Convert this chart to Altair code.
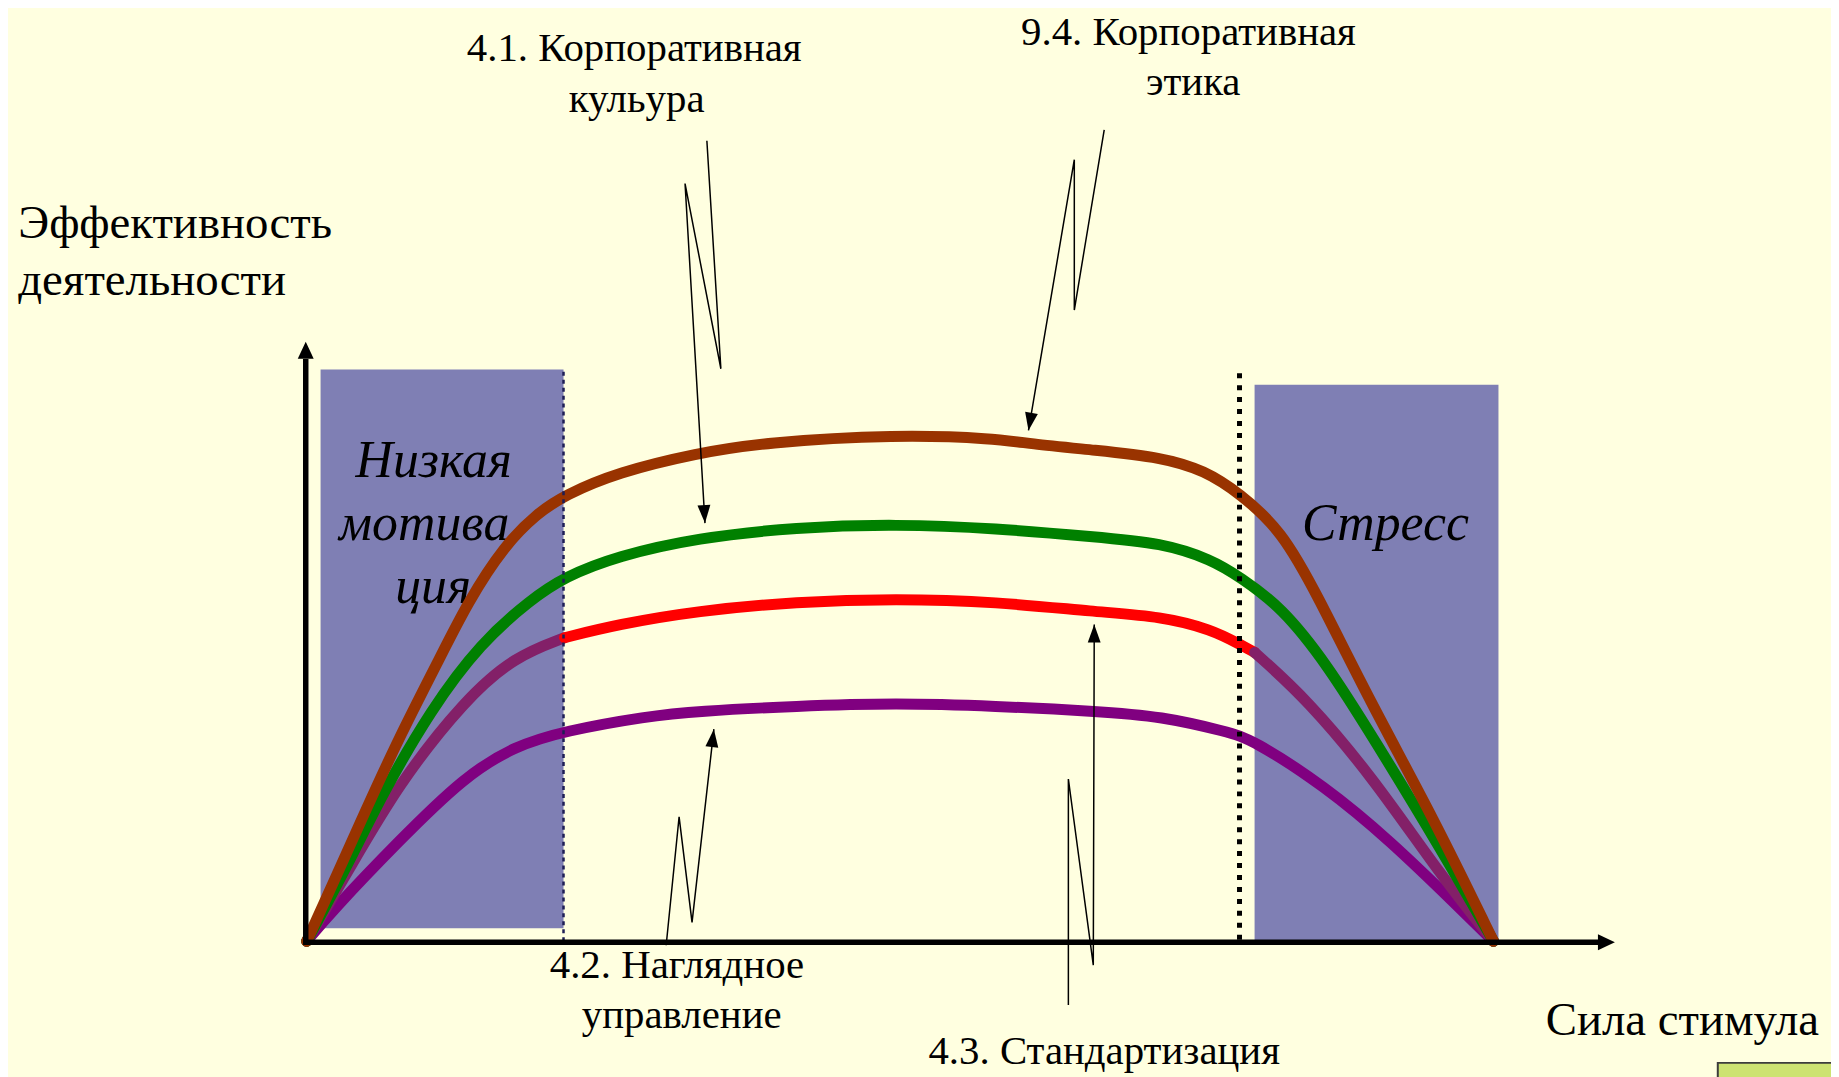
import math
import altair as alt
import pandas as pd

# ---------------- data (stimulus 0..100, effectiveness 0..100 = top of the brown curve)
brown_x = [0, 2.10, 4.95, 7.72, 11.07, 13.59, 16.69, 19.46, 21.73, 26.17, 32.89, 38.5,
           49.66, 58.05, 60.82, 66.44, 72.06, 75.67, 78.61, 82.13, 85.15, 89.51, 94.97, 100]
brown_y = [0, 10.8, 25.7, 39.9, 55.2, 67.0, 78.2, 84.5, 88.0, 92.5, 96.3, 98.4,
           100, 99.2, 98.2, 96.9, 95.5, 92.9, 88.4, 81.1, 68.4, 47.7, 24.2, 0]

green_x = [0, 3.52, 6.29, 10.49, 14.68, 18.88, 21.73, 26.17, 32.89, 41.28, 49.66,
           58.05, 66.44, 72.06, 76.26, 78.61, 82.13, 85.99, 89.93, 95.55, 100]
green_y = [0, 15.3, 28.7, 45.8, 58.9, 67.4, 71.9, 76.0, 79.6, 81.7, 82.3,
           81.5, 79.8, 78.6, 75.3, 71.9, 66.0, 54.6, 39.9, 18.3, 0]

red_x = [0, 3.52, 7.72, 13.34, 17.53, 21.73, 26.17, 32.89, 41.28, 49.66, 58.05,
         66.44, 72.06, 76.26, 78.61, 79.87, 84.31, 89.93, 95.55, 100]
red_y = [0, 13.95, 31.0, 47.7, 56.2, 59.9, 62.5, 65.2, 67.0, 67.6, 67.0,
         65.0, 64.1, 61.5, 58.6, 57.0, 47.7, 32.0, 13.0, 0]
red_bright_from, red_bright_to = 21.73, 79.87

purple_x = [0, 2.10, 7.72, 13.34, 17.53, 21.73, 28.69, 32.89, 41.28, 49.66, 58.05,
            66.44, 72.06, 77.60, 79.61, 85.74, 91.36, 96.90, 100]
purple_y = [0, 5.9, 19.7, 32.6, 38.5, 41.5, 44.4, 45.4, 46.4, 47.0, 46.4,
            45.4, 44.4, 41.3, 39.9, 30.7, 19.7, 7.1, 0]

# zones (low motivation / stress)
zone_x1 = [1.17, 79.87]
zone_x2 = [21.64, 100.42]
zone_y1 = [2.55, 0.0]
zone_y2 = [112.8, 109.8]
zone_edge_left = 21.64
zone_edge_right = 78.6

zone_labels = ["Низкая", "мотива", "ция", "Стресс"]
zone_label_x = [10.7, 9.9, 10.65, 90.9]
zone_label_y = [91.6, 79.2, 66.8, 79.2]

callout_labels = ["4.1. Корпоративная", "кульура", "9.4. Корпоративная", "этика",
                  "4.2. Наглядное", "управление", "4.3. Стандартизация"]
callout_label_x = [27.6, 27.8, 74.3, 74.7, 31.2, 31.6, 67.2]
callout_label_y = [173.7, 163.7, 176.8, 167.0, -7.3, -17.1, -24.2]

callout_x = [[33.72, 34.90, 31.88, 33.56],
             [67.20, 64.68, 64.68, 60.82],
             [30.29, 31.38, 32.47, 34.31],
             [64.18, 64.18, 66.28, 66.36]]
callout_y = [[157.96, 112.97, 149.51, 82.51],
             [160.12, 124.56, 154.22, 100.79],
             [-0.79, 24.56, 3.73, 41.85],
             [-12.57, 32.02, -4.72, 62.48]]

axis_titles = ["Эффективность", "деятельности", "Сила стимула"]
axis_title_x = [-24.3, -24.3, 104.4]
axis_title_y = [138.7, 127.5, -18.5]

# ---------------- layout
W, H = 1831, 1069
PX_PER_X, PX_PER_Y = 11.92, 5.09
ORIGIN_PX, ORIGIN_PY = 300, 935
X_DOMAIN = [-ORIGIN_PX / PX_PER_X, (W - ORIGIN_PX) / PX_PER_X]
Y_DOMAIN = [-(H - ORIGIN_PY) / PX_PER_Y, ORIGIN_PY / PX_PER_Y]
xs = alt.Scale(domain=X_DOMAIN, nice=False, zero=False)
ys = alt.Scale(domain=Y_DOMAIN, nice=False, zero=False)
FONT = "Liberation Serif"

BG = "#FFFFE0"
ZONE = "#7F7FB4"
MUTED = "#832068"


def X(f="x"):
    return alt.X(f"{f}:Q", scale=xs, axis=None)


def Y(f="y"):
    return alt.Y(f"{f}:Q", scale=ys, axis=None)


def heading(x0, y0, x1, y1):
    dx = (x1 - x0) * PX_PER_X
    dy = -(y1 - y0) * PX_PER_Y
    return math.degrees(math.atan2(dx, -dy)) % 360


# ---------------- tables
rows = []
for name, xv, yv in [("purple", purple_x, purple_y), ("green", green_x, green_y),
                     ("brown", brown_x, brown_y)]:
    for i, (a, b) in enumerate(zip(xv, yv)):
        rows.append({"series": name, "x": a, "y": b, "i": i})
for i, (a, b) in enumerate(zip(red_x, red_y)):
    if a <= red_bright_from:
        rows.append({"series": "red_left", "x": a, "y": b, "i": i})
    if red_bright_from <= a <= red_bright_to:
        rows.append({"series": "red", "x": a, "y": b, "i": i})
    if a >= red_bright_to:
        rows.append({"series": "red_right", "x": a, "y": b, "i": i})
curves = pd.DataFrame(rows)

zones = pd.DataFrame({"x1": zone_x1, "x2": zone_x2, "y1": zone_y1, "y2": zone_y2})

crow = []
heads = []
for k, (cx, cy) in enumerate(zip(callout_x, callout_y)):
    for i, (a, b) in enumerate(zip(cx, cy)):
        crow.append({"c": k, "i": i, "x": a, "y": b})
    heads.append({"x": cx[-1], "y": cy[-1], "angle": heading(cx[-2], cy[-2], cx[-1], cy[-1])})
callouts = pd.DataFrame(crow)
callout_heads = pd.DataFrame(heads)

# ---------------- layers
zone_layer = alt.Chart(zones).mark_rect(color=ZONE).encode(
    x=X("x1"), x2="x2", y=Y("y1"), y2="y2")

zone_text = alt.Chart(pd.DataFrame({"t": zone_labels, "x": zone_label_x, "y": zone_label_y})).mark_text(
    font=FONT, fontSize=52, fontStyle="italic", align="center", baseline="alphabetic", color="black"
).encode(x=X(), y=Y(), text="t:N")

curve_colors = alt.Scale(domain=["purple", "red_left", "red", "red_right", "green", "brown"],
                         range=["#800080", MUTED, "#FF0000", MUTED, "#008000", "#993300"])
curve_layers = []
for name in ["purple", "red_left", "red", "red_right", "green", "brown"]:
    d = curves[curves["series"] == name]
    curve_layers.append(
        alt.Chart(d).mark_line(strokeWidth=11, interpolate="basis", strokeCap="round").encode(
            x=X(), y=Y(), order="i:Q",
            color=alt.Color("series:N", scale=curve_colors, legend=None))
    )

left_dash = alt.Chart(pd.DataFrame({"x": [zone_edge_left], "y": [0.0], "y2": [zone_y2[0]]})).mark_rule(
    color="#1E1E55", strokeWidth=2.5, strokeDash=[4, 4]).encode(x=X(), y=Y(), y2="y2")
right_dash = alt.Chart(pd.DataFrame({"x": [zone_edge_right], "y": [0.3], "y2": [112.4]})).mark_rule(
    color="black", strokeWidth=5, strokeDash=[5, 7]).encode(x=X(), y=Y(), y2="y2")

axes = pd.DataFrame({"x": [-0.08, -0.3], "x2": [-0.08, 108.9], "y": [-0.6, -0.2], "y2": [114.9, -0.2]})
axis_lines = alt.Chart(axes).mark_rule(color="black", strokeWidth=5.5).encode(
    x=X(), x2="x2", y=Y(), y2="y2")
axis_heads = alt.Chart(pd.DataFrame({"x": [-0.08, 110.23], "y": [118.3, -0.2], "angle": [0, 90]})).mark_point(
    shape="M0,0L0.47,1L-0.47,1Z", filled=True, color="black", opacity=1, size=1156, strokeWidth=0
).encode(x=X(), y=Y(), angle=alt.Angle("angle:Q", scale=None))

callout_lines = alt.Chart(callouts).mark_line(color="black", strokeWidth=1.5).encode(
    x=X(), y=Y(), detail="c:N", order="i:Q")
callout_arrow = alt.Chart(callout_heads).mark_point(
    shape="M0,0L0.36,1L-0.36,1Z", filled=True, color="black", opacity=1, size=1296, strokeWidth=0
).encode(x=X(), y=Y(), angle=alt.Angle("angle:Q", scale=None))

callout_text = alt.Chart(pd.DataFrame({"t": callout_labels, "x": callout_label_x, "y": callout_label_y})).mark_text(
    font=FONT, fontSize=41, align="center", baseline="alphabetic", color="black"
).encode(x=X(), y=Y(), text="t:N")

axis_text = alt.Chart(pd.DataFrame({"t": axis_titles, "x": axis_title_x, "y": axis_title_y})).mark_text(
    font=FONT, fontSize=47, align="left", baseline="alphabetic", color="black"
).encode(x=X(), y=Y(), text="t:N")

corner = alt.Chart(pd.DataFrame({"x": [118.9], "x2": [140.0], "y": [-40.0], "y2": [-24.0]})).mark_rect(
    color="#CDE372", stroke="#3C3C3C", strokeWidth=2).encode(x=X(), x2="x2", y=Y(), y2="y2")

chart = alt.layer(
    zone_layer, zone_text, *curve_layers, left_dash, right_dash, axis_lines, axis_heads,
    callout_lines, callout_arrow, callout_text, axis_text, corner
).properties(
    width=W, height=H, autosize="none", padding=0, background=BG
).configure_view(stroke=None)

chart.save("out.html", embed_options={"renderer": "svg", "actions": False})
